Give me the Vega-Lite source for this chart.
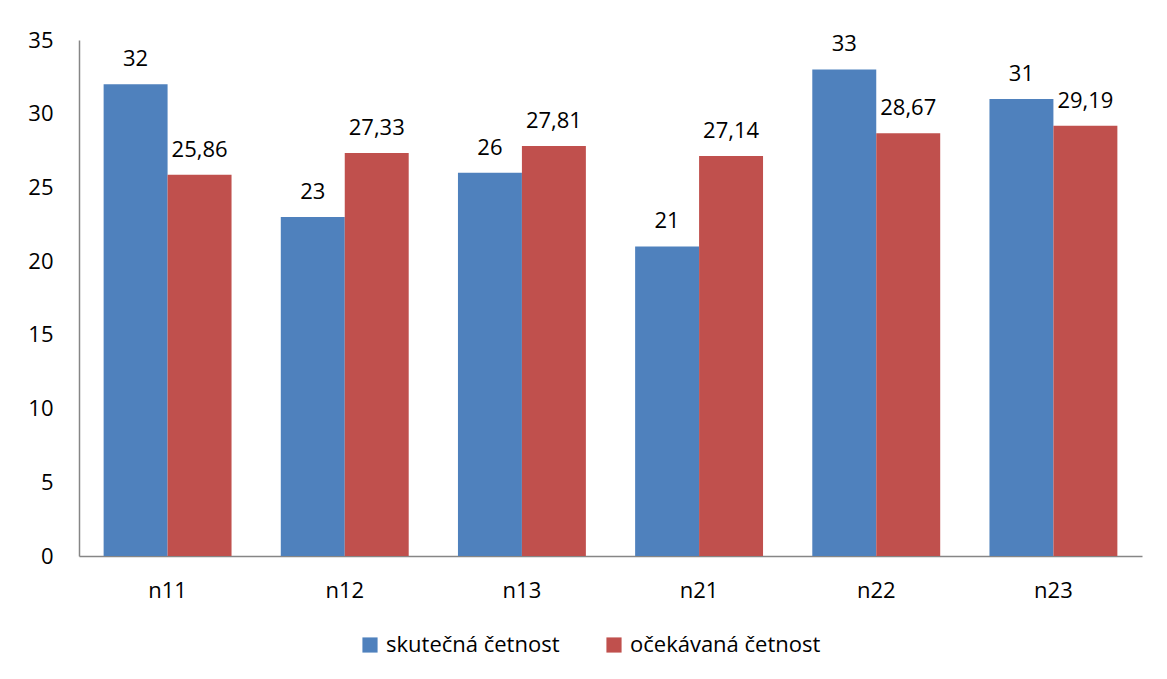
{
  "$schema": "https://vega.github.io/schema/vega-lite/v6.json",
  "autosize": "none",
  "width": 1063,
  "height": 516,
  "padding": {"left": 79, "top": 40, "right": 25, "bottom": 123},
  "background": "white",
  "config": {
    "font": "Open Sans",
    "view": {"stroke": null},
    "locale": {"number": {"decimal": ",", "thousands": " ", "grouping": [3], "currency": ["", " Kč"]}}
  },
  "data": {
    "values": [
      {"kategorie": "n11", "serie": "skutečná četnost", "hodnota": 32},
      {"kategorie": "n11", "serie": "očekávaná četnost", "hodnota": 25.86},
      {"kategorie": "n12", "serie": "skutečná četnost", "hodnota": 23},
      {"kategorie": "n12", "serie": "očekávaná četnost", "hodnota": 27.33},
      {"kategorie": "n13", "serie": "skutečná četnost", "hodnota": 26},
      {"kategorie": "n13", "serie": "očekávaná četnost", "hodnota": 27.81},
      {"kategorie": "n21", "serie": "skutečná četnost", "hodnota": 21},
      {"kategorie": "n21", "serie": "očekávaná četnost", "hodnota": 27.14},
      {"kategorie": "n22", "serie": "skutečná četnost", "hodnota": 33},
      {"kategorie": "n22", "serie": "očekávaná četnost", "hodnota": 28.67},
      {"kategorie": "n23", "serie": "skutečná četnost", "hodnota": 31},
      {"kategorie": "n23", "serie": "očekávaná četnost", "hodnota": 29.19}
    ]
  },
  "encoding": {
    "x": {
      "field": "kategorie", "type": "nominal", "sort": null,
      "scale": {"paddingInner": 0.278, "paddingOuter": 0.139},
      "axis": {"title": null, "labelAngle": 0, "labelFontSize": 22, "labelColor": "#000000", "labelPadding": 24, "ticks": false, "domainColor": "#868686", "domainWidth": 1.5}
    },
    "xOffset": {"field": "serie", "type": "nominal", "sort": ["skutečná četnost", "očekávaná četnost"], "scale": {"paddingInner": 0, "paddingOuter": 0}},
    "y": {
      "field": "hodnota", "type": "quantitative",
      "scale": {"domain": [0, 35], "nice": false},
      "axis": {"title": null, "values": [0, 5, 10, 15, 20, 25, 30, 35], "grid": false, "ticks": false, "labelFontSize": 22, "labelColor": "#000000", "labelPadding": 26, "domainColor": "#868686", "domainWidth": 1.5}
    }
  },
  "layer": [
    {
      "mark": {"type": "bar"},
      "encoding": {
        "color": {
          "field": "serie", "type": "nominal",
          "sort": ["skutečná četnost", "očekávaná četnost"],
          "scale": {"domain": ["skutečná četnost", "očekávaná četnost"], "range": ["#4F81BD", "#C0504D"]},
          "legend": {"title": null, "orient": "none", "legendX": 280, "legendY": 594, "direction": "horizontal", "symbolType": "square", "symbolSize": 230, "symbolStrokeWidth": 0, "labelFontSize": 22, "labelLimit": 400, "labelColor": "#000000", "columnPadding": 43, "labelOffset": 5}
        }
      }
    },
    {
      "mark": {"type": "text", "baseline": "alphabetic", "dy": -18, "fontSize": 22, "color": "#000000"},
      "encoding": {
        "text": {"field": "hodnota", "type": "quantitative", "format": ".2~f"}
      }
    }
  ]
}
